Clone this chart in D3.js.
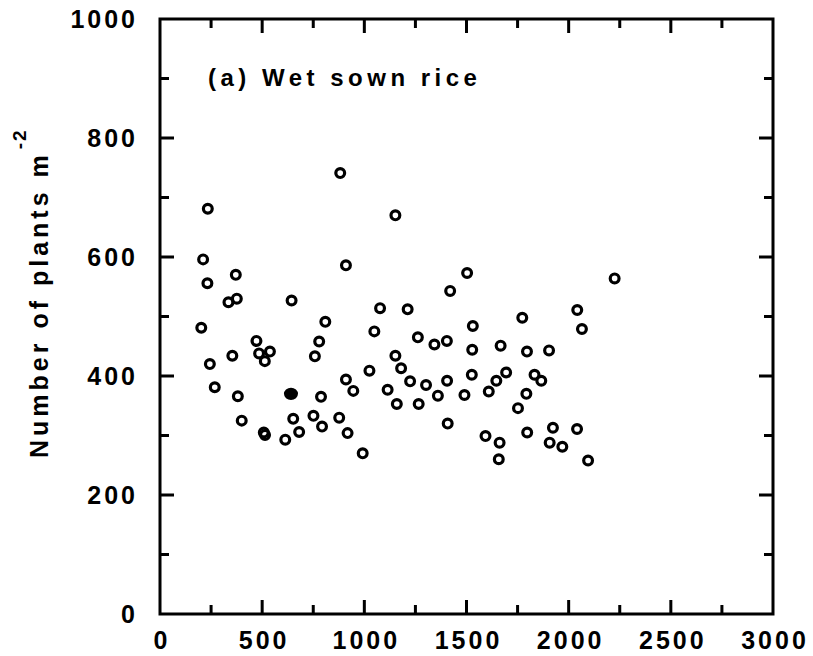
<!DOCTYPE html>
<html>
<head>
    <meta charset="utf-8">
    <script src="https://d3js.org/d3.v7.min.js"></script>
    <style>
        body { margin: 0; background: #fff; }
        text { font-family: "Liberation Sans", Arial, sans-serif; font-weight: bold; fill: #000; }
    </style>
</head>
<body>
<div id="chart"></div>
<script>
    // seeding density vs. plants per m2
    const seedX = [882, 234, 211, 910, 371, 232, 335, 376, 644, 809, 202, 472, 779, 354, 485, 538, 513, 758,
        244, 1025, 910, 946, 268, 788, 381, 400, 652, 751, 793, 877, 681, 508, 514, 613, 918, 992,
        1152, 1503, 1420, 1077, 1212, 1773, 1049, 1531, 1262, 1343, 1404, 1528, 1667, 1796, 1904, 1152,
        1180, 1224, 1302, 1405, 1360, 1526, 1694, 1646, 1609, 1833, 1866, 1793, 1752, 1490, 1114, 1159,
        1266, 1408, 1593, 1662, 1658, 1797, 1923, 1907, 2225, 2042, 2065, 2041, 1969, 2095];
    const plants = [741, 681, 596, 586, 570, 556, 524, 530, 527, 491, 481, 459, 458, 434, 438, 441, 425, 433,
        420, 409, 394, 375, 381, 365, 366, 325, 328, 333, 315, 330, 306, 305, 301, 293, 304, 270,
        670, 573, 543, 514, 512, 498, 475, 484, 465, 453, 459, 444, 451, 441, 443, 434,
        413, 391, 385, 392, 367, 402, 406, 392, 374, 402, 392, 370, 346, 368, 377, 353,
        353, 320, 299, 288, 260, 305, 313, 288, 564, 511, 479, 311, 281, 258];
    // the one solid marker
    const filledX = [641];
    const filledY = [370];

    const xTicks = [0, 500, 1000, 1500, 2000, 2500, 3000];
    const yTicks = [0, 200, 400, 600, 800, 1000];

    const width = 813, height = 656;
    const mLeft = 160, mRight = 773, mTop = 19, mBottom = 614;

    const svg = d3.select("#chart").append("svg")
        .attr("width", width)
        .attr("height", height);

    const x = d3.scaleLinear().domain([0, 3000]).range([mLeft, mRight]);
    const y = d3.scaleLinear().domain([0, 1000]).range([mBottom, mTop]);

    const minorX = d3.range(250, 3000, 500);
    const minorY = d3.range(100, 1000, 200);

    // frame and inward ticks (major 14px, minor 9px) in one path
    const xt = xTicks.slice(1, -1).map(d => [d, 14]).concat(minorX.map(d => [d, 9]));
    const yt = yTicks.slice(1, -1).map(d => [d, 14]).concat(minorY.map(d => [d, 9]));
    const fp = d3.path();
    fp.rect(mLeft, mTop, mRight - mLeft, mBottom - mTop);
    xt.forEach(function (d) {
        fp.moveTo(x(d[0]), mBottom); fp.lineTo(x(d[0]), mBottom - d[1]);
        fp.moveTo(x(d[0]), mTop); fp.lineTo(x(d[0]), mTop + d[1]);
    });
    yt.forEach(function (d) {
        fp.moveTo(mLeft, y(d[0])); fp.lineTo(mLeft + d[1], y(d[0]));
        fp.moveTo(mRight, y(d[0])); fp.lineTo(mRight - d[1], y(d[0]));
    });
    svg.append("path")
        .attr("d", fp.toString())
        .attr("fill", "none")
        .attr("stroke", "#000")
        .attr("stroke-width", 3);

    // tick labels
    svg.selectAll(".xlab").data(xTicks).enter().append("text")
        .attr("x", d => x(d) + 2)
        .attr("y", 649)
        .attr("text-anchor", "middle")
        .attr("font-size", 25)
        .attr("letter-spacing", 3)
        .text(d => d);

    svg.selectAll(".ylab").data(yTicks).enter().append("text")
        .attr("x", 138)
        .attr("y", d => y(d) + 9)
        .attr("text-anchor", "end")
        .attr("font-size", 25)
        .attr("letter-spacing", 3)
        .text(d => d);

    // y axis title
    const ytitle = svg.append("text")
        .attr("transform", "translate(48,458) rotate(-90)")
        .attr("font-size", 25)
        .attr("letter-spacing", 4);
    ytitle.append("tspan").text("Number of plants m");
    ytitle.append("tspan").attr("dx", 2).attr("dy", -22).attr("font-size", 19).attr("letter-spacing", 2).text("-2");

    // panel title
    svg.append("text")
        .attr("x", 208)
        .attr("y", 86)
        .attr("font-size", 24)
        .attr("letter-spacing", 4.5)
        .text("(a) Wet sown rice");

    // points
    const pts = seedX.map((d, i) => ({ x: d, y: plants[i] }));
    svg.selectAll(".pt").data(pts).enter().append("circle")
        .attr("cx", d => x(d.x))
        .attr("cy", d => y(d.y))
        .attr("r", 4.4)
        .attr("fill", "none")
        .attr("stroke", "#000")
        .attr("stroke-width", 3.2);

    svg.selectAll(".fpt").data(filledX).enter().append("ellipse")
        .attr("cx", d => x(d))
        .attr("cy", (d, i) => y(filledY[i]))
        .attr("rx", 7)
        .attr("ry", 6.2)
        .attr("fill", "#000");
</script>
</body>
</html>
